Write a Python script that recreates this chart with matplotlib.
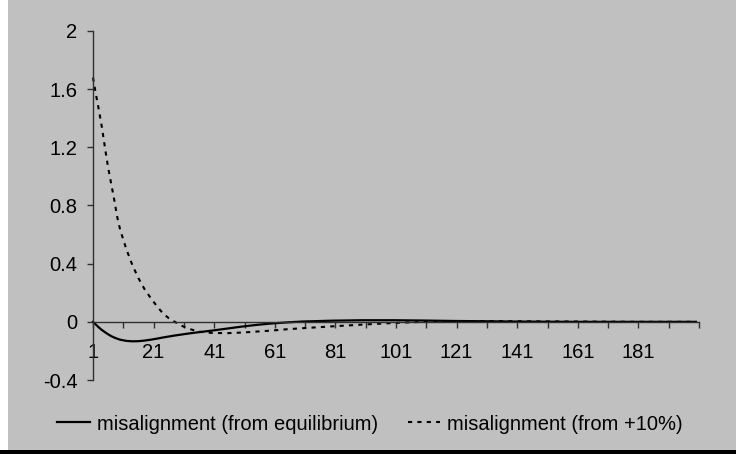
import numpy as np
import matplotlib.pyplot as plt
from matplotlib.patches import Rectangle

# values (category -> misalignment)
periods = [1, 2, 3, 4, 5, 6, 7, 8, 9, 10, 12, 14, 16, 18, 20, 22, 24, 26, 28, 30,
           33, 36, 40, 45, 50, 55, 60, 65, 70, 80, 90, 100, 110, 120, 130, 140,
           150, 160, 170, 180, 190, 200]
from_equilibrium = [0.0, -0.02, -0.04, -0.057, -0.072, -0.086, -0.098, -0.108, -0.116, -0.123,
                    -0.131, -0.134, -0.133, -0.129, -0.123, -0.116, -0.108, -0.101, -0.094, -0.088,
                    -0.079, -0.071, -0.061, -0.047, -0.033, -0.021, -0.011, -0.004, 0.002, 0.008,
                    0.011, 0.011, 0.009, 0.006, 0.004, 0.002, 0.001, 0.0, 0.0, 0.0, 0.0, 0.0]
from_plus10 = [1.68, 1.56, 1.45, 1.33, 1.19, 1.06, 0.95, 0.84, 0.72, 0.63,
               0.50, 0.39, 0.30, 0.225, 0.165, 0.11, 0.06, 0.025, 0.0, -0.025,
               -0.05, -0.068, -0.076, -0.078, -0.074, -0.067, -0.06, -0.051, -0.044, -0.031,
               -0.019, -0.008, 0.0, 0.004, 0.005, 0.004, 0.003, 0.002, 0.001, 0.0, 0.0, 0.0]

x_ticks = list(range(1, 202, 10))
x_tick_labels = ['1', '', '21', '', '41', '', '61', '', '81', '', '101', '', '121', '',
                 '141', '', '161', '', '181', '', '']
y_ticks = [-0.4, 0, 0.4, 0.8, 1.2, 1.6, 2]
y_tick_labels = ['-0.4', '0', '0.4', '0.8', '1.2', '1.6', '2']

plt.rcParams['font.family'] = ['Liberation Sans', 'DejaVu Sans']
fs = 14.5

fig = plt.figure(figsize=(7.36, 4.54), dpi=100)
fig.patch.set_facecolor('#C0C0C0')
# white strip on the left and black rule at the bottom
fig.patches.append(Rectangle((0, 0), 8 / 736, 1, transform=fig.transFigure,
                             facecolor='white', edgecolor='none'))
fig.patches.append(Rectangle((0, 0), 1, 4 / 454, transform=fig.transFigure,
                             facecolor='black', edgecolor='none'))

ax = fig.add_axes([93 / 736, 74 / 454, 606 / 736, 349 / 454])
ax.set_facecolor('none')

ax.plot(periods, from_equilibrium, color='black', lw=1.6,
        label='misalignment (from equilibrium)', clip_on=False)
ax.plot(periods, from_plus10, color='black', lw=1.5, linestyle=(0, (2, 2.5)),
        label='misalignment (from +10%)', clip_on=False)

ax.set_xlim(1, 201)
ax.set_ylim(-0.4, 2)

for s in ['top', 'right']:
    ax.spines[s].set_visible(False)
ax.spines['bottom'].set_position(('data', 0))
ax.spines['left'].set_color('#303030')
ax.spines['bottom'].set_color('#303030')
ax.spines['left'].set_linewidth(1)
ax.spines['bottom'].set_linewidth(1)

ax.set_xticks(x_ticks)
ax.set_xticklabels(x_tick_labels, fontsize=fs)
ax.set_yticks(y_ticks)
ax.set_yticklabels(y_tick_labels, fontsize=fs)
ax.tick_params(axis='x', direction='out', length=4.3, width=1, color='#303030', pad=11)
ax.tick_params(axis='y', direction='out', length=4.3, width=1, color='#303030', pad=7)

fig.legend(loc='center', bbox_to_anchor=(0.503, 0.066), ncol=2, frameon=False,
           fontsize=fs, handlelength=1.6, handletextpad=0.35, columnspacing=1.5)

fig.savefig('out.png', dpi=100, facecolor=fig.get_facecolor())
